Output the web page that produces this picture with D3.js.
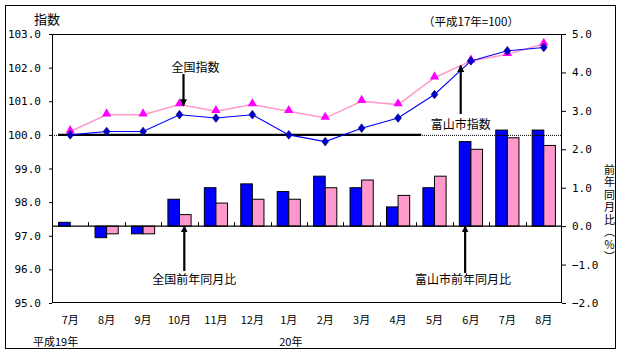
<!DOCTYPE html>
<html><head><meta charset="utf-8">
<script src="https://cdn.jsdelivr.net/npm/d3@7"></script>
<style>
html,body{margin:0;padding:0;background:#fff;}
svg{display:block;}
text{font-family:"Noto Sans CJK JP","Noto Sans",sans-serif;fill:#000;}
.num text{font-family:"DejaVu Sans Mono",monospace;font-size:11px;}
</style></head>
<body>
<svg id="c" width="626" height="357"></svg>
<script>
const months = ["7月","8月","9月","10月","11月","12月","1月","2月","3月","4月","5月","6月","7月","8月"];
const toyamaIndex   = [100.0,100.1,100.1,100.6,100.5,100.6,100.0,99.8,100.2,100.5,101.2,102.2,102.5,102.6];
const nationalIndex = [100.1,100.6,100.6,100.9,100.7,100.9,100.7,100.5,101.0,100.9,101.7,102.2,102.4,102.7];
const toyamaYoY     = [0.1,-0.3,-0.2,0.7,1.0,1.1,0.9,1.3,1.0,0.5,1.0,2.2,2.5,2.5];
const nationalYoY   = [0.0,-0.2,-0.2,0.3,0.6,0.7,0.7,1.0,1.2,0.8,1.3,2.0,2.3,2.1];
const leftTicks  = [95,96,97,98,99,100,101,102,103];
const rightTicks = [-2,-1,0,1,2,3,4,5];

const svg = d3.select("#c");
const L = 52, R = 562, T = 34, B = 303;
const idx = d3.range(months.length);
const x = d3.scaleBand().domain(idx).range([L, R]);
const bw = x.bandwidth();
const xb = d3.scaleBand().domain(["t","n"]).range([0, bw]).paddingInner(0).paddingOuter(0.57);
const yL = d3.scaleLinear().domain([95,103]).range([B, T]);
const yR = d3.scaleLinear().domain([-2,5]).range([B, T]);

// outer border
svg.append("rect").attr("x",5.5).attr("y",5.5).attr("width",610).attr("height",343)
  .attr("fill","none").attr("stroke","#000");

// bars
const bars = [];
idx.forEach(i => {
  bars.push({i, k:"t", v:toyamaYoY[i], c:"#0000ff"});
  bars.push({i, k:"n", v:nationalYoY[i], c:"#ff99cc"});
});
svg.append("g").selectAll("rect").data(bars.filter(d=>d.v!==0)).join("rect")
  .attr("x", d => x(d.i) + xb(d.k))
  .attr("width", xb.bandwidth())
  .attr("y", d => Math.min(yR(d.v), yR(0)))
  .attr("height", d => Math.abs(yR(d.v) - yR(0)))
  .attr("fill", d => d.c).attr("stroke","#000").attr("stroke-width",1);

// zero line of bars with category ticks
svg.append("line").attr("x1",L).attr("x2",R).attr("y1",yR(0)).attr("y2",yR(0))
  .attr("stroke","#000").attr("stroke-width",1.3);
svg.append("g").selectAll("line").data(d3.range(1, months.length)).join("line")
  .attr("x1", i => Math.round(x(i))+0.5).attr("x2", i => Math.round(x(i))+0.5)
  .attr("y1", yR(0)).attr("y2", yR(0)-4).attr("stroke","#000");

// 100 reference line: dotted across, thick on left part
svg.append("line").attr("x1",L).attr("x2",R).attr("y1",yL(100)+0.5).attr("y2",yL(100)+0.5)
  .attr("stroke","#000").attr("stroke-dasharray","1,1");
svg.append("line").attr("x1",L+6).attr("x2",x(10)+5).attr("y1",yL(100)).attr("y2",yL(100))
  .attr("stroke","#000").attr("stroke-width",2.2);

// lines
const cx = i => x(i) + bw/2;
const lineN = d3.line().x((d,i)=>cx(i)).y(d=>yL(d));
svg.append("path").datum(nationalIndex).attr("d", lineN).attr("fill","none")
  .attr("stroke","#ff99cc").attr("stroke-width",1.5);
svg.append("path").datum(toyamaIndex).attr("d", lineN).attr("fill","none")
  .attr("stroke","#0000ff").attr("stroke-width",1.1);

svg.append("g").selectAll("path").data(nationalIndex).join("path")
  .attr("d", d3.symbol().type(d3.symbolTriangle).size(38))
  .attr("transform",(d,i)=>`translate(${cx(i)},${yL(d)-1})`)
  .attr("fill","#ff00ff");
svg.append("g").selectAll("path").data(toyamaIndex).join("path")
  .attr("d", d3.symbol().type(d3.symbolDiamond).size(30))
  .attr("transform",(d,i)=>`translate(${cx(i)},${yL(d)}) scale(1.15,0.85)`)
  .attr("fill","#0000cc").attr("stroke","#000066").attr("stroke-width",0.6);

// plot frame
svg.append("rect").attr("x",L+0.5).attr("y",T+0.5).attr("width",R-L-1).attr("height",B-T-1)
  .attr("fill","none").attr("stroke","#000");

// axes
const axL = svg.append("g").attr("class","num").attr("transform",`translate(${L},0)`)
  .call(d3.axisLeft(yL).tickValues(leftTicks).tickFormat(d3.format(".1f")).tickSize(3).tickPadding(8));
axL.select(".domain").remove();
const axR = svg.append("g").attr("class","num").attr("transform",`translate(${R},0)`)
  .call(d3.axisRight(yR).tickValues(rightTicks).tickFormat(d3.format(".1f")).tickSize(4).tickPadding(6));
axR.select(".domain").remove();

// x labels
svg.append("g").selectAll("text").data(idx).join("text")
  .attr("x", cx).attr("y", 324).attr("text-anchor","middle")
  .style("font-size","11px").text(i => months[i]);
svg.append("text").attr("x",33).attr("y",346).style("font-size","11px").text("平成19年");
svg.append("text").attr("x",cx(6)+2).attr("y",346).attr("text-anchor","middle").style("font-size","11px").text("20年");

// titles
svg.append("text").attr("x",34).attr("y",24).style("font-size","13px").text("指数");
svg.append("text").attr("x",471).attr("y",26).attr("text-anchor","middle").style("font-size","11.5px").text("（平成17年=100）");
svg.append("text").attr("x",609.5).attr("y",164)
  .style("writing-mode","vertical-rl").style("text-orientation","mixed")
  .style("letter-spacing","1.5px").style("font-size","11px")
  .text("前年同月比（％）");

// annotations
const defs = svg.append("defs");
defs.append("marker").attr("id","ah").attr("viewBox","0 0 10 10").attr("refX",9).attr("refY",5)
  .attr("markerWidth",3.2).attr("markerHeight",3.2).attr("orient","auto")
  .append("path").attr("d","M0,0L10,5L0,10z").attr("fill","#000");
function arrow(x0,y0,x1,y1){
  svg.append("line").attr("x1",x0).attr("y1",y0).attr("x2",x1).attr("y2",y1)
    .attr("stroke","#000").attr("stroke-width",2.2).attr("marker-end","url(#ah)");
}
const ax1 = cx(3)+4;
arrow(ax1, 74, ax1, yL(nationalIndex[3])+1);
svg.append("text").attr("x",ax1+12).attr("y",72).attr("text-anchor","middle").style("font-size","12px").text("全国指数");

const ax2 = x(11)+8;
arrow(ax2, 114, ax2, yL(102.0)-2);
svg.append("text").attr("x",ax2).attr("y",129).attr("text-anchor","middle").style("font-size","12px").text("富山市指数");

const ax3 = x(3)+xb("n")+xb.bandwidth()/2-1;
arrow(ax3, 271, ax3, yR(0));
svg.append("text").attr("x",ax3+10).attr("y",284).attr("text-anchor","middle").style("font-size","12px").text("全国前年同月比");

const ax4 = x(11)+xb("t")+xb.bandwidth()/2;
arrow(ax4, 273, ax4, yR(0));
svg.append("text").attr("x",ax4-2).attr("y",284).attr("text-anchor","middle").style("font-size","12px").text("富山市前年同月比");
</script>
</body></html>
